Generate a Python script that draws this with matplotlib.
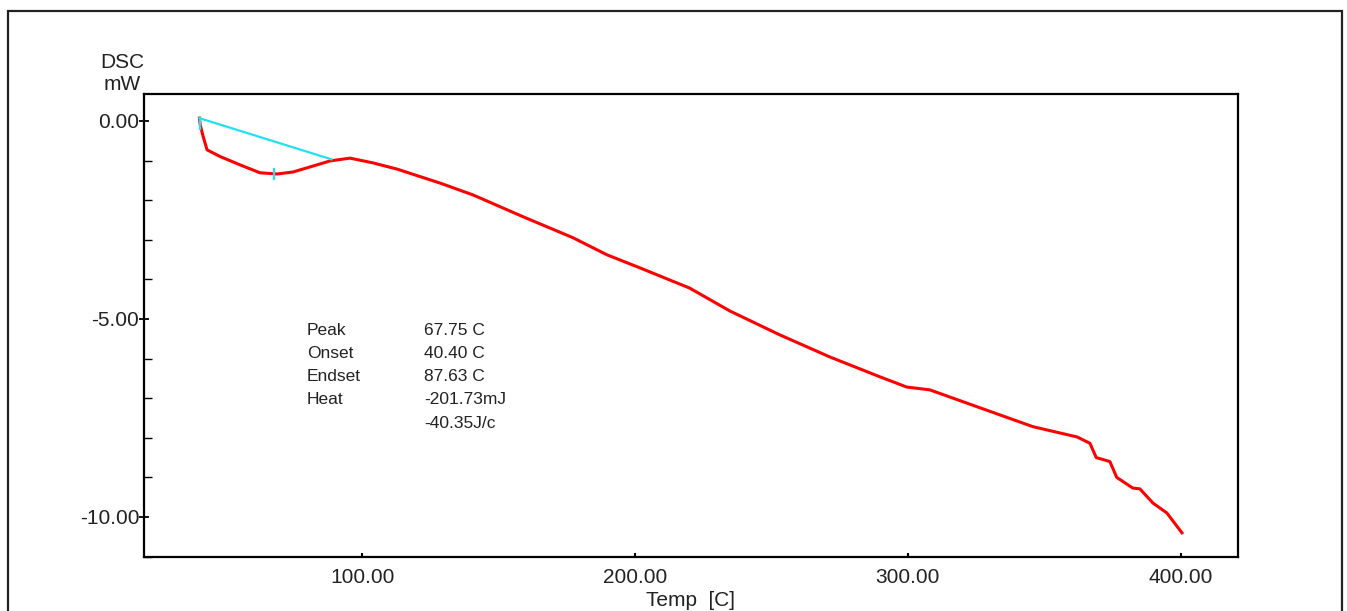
import matplotlib
matplotlib.use("Agg")
import matplotlib.pyplot as plt
from matplotlib.patches import Rectangle
from matplotlib.ticker import MultipleLocator, FixedLocator

plt.rcParams['font.family'] = ['Liberation Sans', 'DejaVu Sans']

# DSC curve
temp = [40.4, 40.7, 41.8, 43.2, 48.0, 55.3, 62.6, 68.9, 74.7, 82.0, 88.3, 95.6,
        104.0, 113.0, 121.0, 128.6, 140.7, 159.0, 177.3, 189.7, 201.8, 220.0,
        234.8, 253.0, 271.4, 289.7, 299.6, 308.0, 327.5, 345.8, 362.0, 366.7,
        369.0, 374.0, 376.5, 382.4, 385.0, 389.8, 394.9, 400.4]
dsc = [0.07, -0.10, -0.40, -0.73, -0.90, -1.11, -1.31, -1.34, -1.29, -1.14, -1.01, -0.94,
       -1.06, -1.22, -1.40, -1.57, -1.87, -2.42, -2.95, -3.38, -3.71, -4.22,
       -4.80, -5.40, -5.96, -6.46, -6.72, -6.79, -7.27, -7.72, -7.98, -8.14,
       -8.50, -8.60, -9.00, -9.27, -9.29, -9.65, -9.90, -10.40]

# integration baseline (onset -> endset) and peak marker
base_t = [40.4, 88.8]
base_y = [0.07, -0.97]
peak_t = 67.75
peak_y = -1.34

labels = ["Peak", "Onset", "Endset", "Heat", ""]
values = ["67.75 C", "40.40 C", "87.63 C", "-201.73mJ", "-40.35J/c"]

fig = plt.figure(figsize=(13.47, 6.11), dpi=100)
ax = fig.add_axes([0.1069, 0.0884, 0.8121, 0.7578])

ax.plot(temp, dsc, color='red', lw=2.2, zorder=3)
ax.plot(base_t, base_y, color='#22e0f0', lw=1.6, zorder=4)
ax.plot([peak_t, peak_t], [peak_y + 0.12, peak_y - 0.12], color='#22e0f0', lw=1.6, zorder=4)
ax.plot([40.5, 40.5], [0.07, -0.2], color='#22e0f0', lw=1.6, zorder=4)

ax.set_xlim(20.1, 420.9)
ax.set_ylim(-11.01, 0.68)

ax.xaxis.set_major_locator(FixedLocator([100, 200, 300, 400]))
ax.yaxis.set_major_locator(FixedLocator([0, -5, -10]))
ax.yaxis.set_minor_locator(MultipleLocator(1.0))
ax.xaxis.set_major_formatter(lambda v, p: f"{v:.2f}")
ax.yaxis.set_major_formatter(lambda v, p: f"{v:.2f}")

ax.tick_params(axis='y', which='major', direction='inout', length=7, width=1.3,
               labelsize=15, pad=0, labelcolor='#222222')
ax.tick_params(axis='y', which='minor', direction='in', length=6, width=1.0)
ax.tick_params(axis='x', which='major', direction='in', length=3, width=1.5,
               labelsize=15, pad=8, labelcolor='#222222')

for s in ax.spines.values():
    s.set_linewidth(1.6)

ax.set_xlabel("Temp  [C]", fontsize=15, color='#222222', labelpad=3)

fig.text(122 / 1347, 1 - 63 / 611, "DSC", fontsize=15, ha='center', va='center', color='#222222')
fig.text(122 / 1347, 1 - 85 / 611, "mW", fontsize=15, ha='center', va='center', color='#222222')

for i, (lab, val) in enumerate(zip(labels, values)):
    y = 1 - (330 + i * 23.3) / 611
    fig.text(307 / 1347, y, lab, fontsize=12.5, va='center', color='#222222')
    fig.text(424 / 1347, y, val, fontsize=12.5, va='center', color='#222222')

frame = Rectangle((8 / 1347, -0.05), (1342 - 8) / 1347, 0.982 + 0.05,
                  transform=fig.transFigure, fill=False, lw=1.6, edgecolor='#222222',
                  clip_on=False)
fig.patches.append(frame)

fig.savefig("out.png", dpi=100)
